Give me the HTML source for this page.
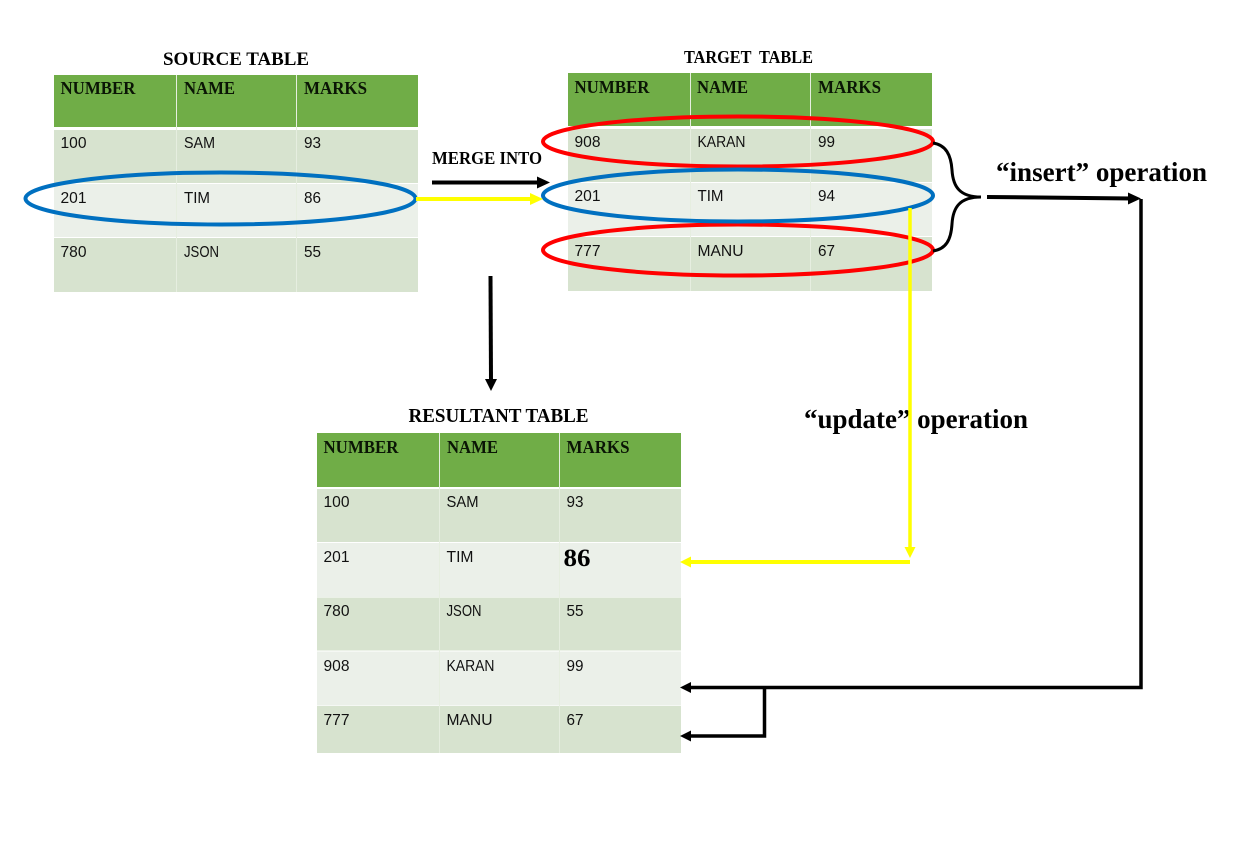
<!DOCTYPE html>
<html><head><meta charset="utf-8"><style>
html,body{margin:0;padding:0;background:#fff}
svg{display:block}
.h{font:bold 18px "Liberation Serif",serif;fill:#0a1505}
.c{font:15.500px "Liberation Sans",sans-serif;fill:#111}
.t{font:bold 19px "Liberation Serif",serif;fill:#000}
.op{font:bold 27px "Liberation Serif",serif;fill:#000}
</style></head><body>
<svg width="1241" height="849" viewBox="0 0 1241 849" xmlns="http://www.w3.org/2000/svg">
<rect width="1241" height="849" fill="#fff"/>

<!-- Source table -->
<rect x="54" y="75" width="364" height="52" fill="#70AD47"/>
<rect x="54" y="130" width="364" height="53" fill="#D7E3CF"/>
<rect x="54" y="184" width="364" height="53" fill="#EBF0E9"/>
<rect x="54" y="238" width="364" height="54" fill="#D7E3CF"/>
<path d="M176.500 75V292M296.500 75V292" stroke="#E6EEE0" stroke-width="1"/>
<text class="t" x="163" y="65" textLength="146" lengthAdjust="spacingAndGlyphs">SOURCE TABLE</text>
<text class="h" x="60.500" y="94" textLength="75" lengthAdjust="spacingAndGlyphs">NUMBER</text>
<text class="h" x="184" y="94" textLength="51" lengthAdjust="spacingAndGlyphs">NAME</text>
<text class="h" x="304" y="94" textLength="63" lengthAdjust="spacingAndGlyphs">MARKS</text>
<text class="c" x="60.500" y="148" textLength="26" lengthAdjust="spacingAndGlyphs">100</text><text class="c" x="184" y="148" textLength="31" lengthAdjust="spacingAndGlyphs">SAM</text><text class="c" x="304" y="148" textLength="17" lengthAdjust="spacingAndGlyphs">93</text>
<text class="c" x="60.500" y="203" textLength="26" lengthAdjust="spacingAndGlyphs">201</text><text class="c" x="184" y="203" textLength="26" lengthAdjust="spacingAndGlyphs">TIM</text><text class="c" x="304" y="203" textLength="17" lengthAdjust="spacingAndGlyphs">86</text>
<text class="c" x="60.500" y="257" textLength="26" lengthAdjust="spacingAndGlyphs">780</text><text class="c" x="184" y="257" textLength="35" lengthAdjust="spacingAndGlyphs">JSON</text><text class="c" x="304" y="257" textLength="17" lengthAdjust="spacingAndGlyphs">55</text>

<!-- Target table -->
<rect x="568" y="73" width="364" height="53" fill="#70AD47"/>
<rect x="568" y="129" width="364" height="53" fill="#D7E3CF"/>
<rect x="568" y="183" width="364" height="53" fill="#EBF0E9"/>
<rect x="568" y="237" width="364" height="54" fill="#D7E3CF"/>
<path d="M690.500 73V291M810.500 73V291" stroke="#E6EEE0" stroke-width="1"/>
<text class="t" x="684" y="63" textLength="129" lengthAdjust="spacingAndGlyphs" style="font-size:17.500px" xml:space="preserve">TARGET  TABLE</text>
<text class="h" x="574.500" y="93" textLength="75" lengthAdjust="spacingAndGlyphs">NUMBER</text>
<text class="h" x="697" y="93" textLength="51" lengthAdjust="spacingAndGlyphs">NAME</text>
<text class="h" x="818" y="93" textLength="63" lengthAdjust="spacingAndGlyphs">MARKS</text>
<text class="c" x="574.500" y="147" textLength="26" lengthAdjust="spacingAndGlyphs">908</text><text class="c" x="697.500" y="147" textLength="48" lengthAdjust="spacingAndGlyphs">KARAN</text><text class="c" x="818" y="147" textLength="17" lengthAdjust="spacingAndGlyphs">99</text>
<text class="c" x="574.500" y="201" textLength="26" lengthAdjust="spacingAndGlyphs">201</text><text class="c" x="697.500" y="201" textLength="26" lengthAdjust="spacingAndGlyphs">TIM</text><text class="c" x="818" y="201" textLength="17" lengthAdjust="spacingAndGlyphs">94</text>
<text class="c" x="574.500" y="256" textLength="26" lengthAdjust="spacingAndGlyphs">777</text><text class="c" x="697.500" y="256" textLength="46" lengthAdjust="spacingAndGlyphs">MANU</text><text class="c" x="818" y="256" textLength="17" lengthAdjust="spacingAndGlyphs">67</text>

<!-- Result table -->
<rect x="317" y="433" width="364" height="54" fill="#70AD47"/>
<rect x="317" y="489" width="364" height="53" fill="#D7E3CF"/>
<rect x="317" y="543" width="364" height="54" fill="#EBF0E9"/>
<rect x="317" y="597.500" width="364" height="53" fill="#D7E3CF"/>
<rect x="317" y="651.500" width="364" height="54" fill="#EBF0E9"/>
<rect x="317" y="706" width="364" height="47" fill="#D7E3CF"/>
<path d="M439.500 433V753M559.500 433V753" stroke="#E6EEE0" stroke-width="1"/>
<text class="t" x="408.500" y="422" textLength="180" lengthAdjust="spacingAndGlyphs" style="font-size:19.500px">RESULTANT TABLE</text>
<text class="h" x="323.500" y="453" textLength="75" lengthAdjust="spacingAndGlyphs">NUMBER</text>
<text class="h" x="447" y="453" textLength="51" lengthAdjust="spacingAndGlyphs">NAME</text>
<text class="h" x="566.500" y="453" textLength="63" lengthAdjust="spacingAndGlyphs">MARKS</text>
<text class="c" x="323.500" y="507" textLength="26" lengthAdjust="spacingAndGlyphs">100</text><text class="c" x="446.500" y="507" textLength="32" lengthAdjust="spacingAndGlyphs">SAM</text><text class="c" x="566.500" y="507" textLength="17" lengthAdjust="spacingAndGlyphs">93</text>
<text class="c" x="323.500" y="562" textLength="26" lengthAdjust="spacingAndGlyphs">201</text><text class="c" x="446.500" y="562" textLength="27" lengthAdjust="spacingAndGlyphs">TIM</text>
<text x="563.500" y="566" textLength="27" lengthAdjust="spacingAndGlyphs" style="font:bold 25.500px 'Liberation Serif',serif" fill="#000">86</text>
<text class="c" x="323.500" y="616" textLength="26" lengthAdjust="spacingAndGlyphs">780</text><text class="c" x="446.500" y="616" textLength="35" lengthAdjust="spacingAndGlyphs">JSON</text><text class="c" x="566.500" y="616" textLength="17" lengthAdjust="spacingAndGlyphs">55</text>
<text class="c" x="323.500" y="671" textLength="26" lengthAdjust="spacingAndGlyphs">908</text><text class="c" x="446.500" y="671" textLength="48" lengthAdjust="spacingAndGlyphs">KARAN</text><text class="c" x="566.500" y="671" textLength="17" lengthAdjust="spacingAndGlyphs">99</text>
<text class="c" x="323.500" y="725" textLength="26" lengthAdjust="spacingAndGlyphs">777</text><text class="c" x="446.500" y="725" textLength="46" lengthAdjust="spacingAndGlyphs">MANU</text><text class="c" x="566.500" y="725" textLength="17" lengthAdjust="spacingAndGlyphs">67</text>

<!-- Ellipses -->
<ellipse cx="220.500" cy="198.500" rx="195" ry="26" fill="none" stroke="#0070C0" stroke-width="4"/>
<ellipse cx="738" cy="141.500" rx="195" ry="25" fill="none" stroke="#F00" stroke-width="4"/>
<ellipse cx="738" cy="250" rx="195" ry="25.500" fill="none" stroke="#F00" stroke-width="4"/>
<ellipse cx="738" cy="195.500" rx="195" ry="26" fill="none" stroke="#0070C0" stroke-width="4"/>

<!-- Merge arrows -->
<text class="t" x="432" y="164" textLength="110" lengthAdjust="spacingAndGlyphs" style="font-size:18px">MERGE INTO</text>
<path d="M432 182.500H540" stroke="#000" stroke-width="4"/><path d="M537 176.500L550 182.500L537 188.500Z" fill="#000"/>
<path d="M416 199H532" stroke="#FF0" stroke-width="4"/><path d="M530 193L543 199L530 205Z" fill="#FF0"/>
<path d="M490.500 276L491 381" stroke="#000" stroke-width="4"/><path d="M485 379L491 391L497 379Z" fill="#000"/>

<!-- Brace -->
<path d="M933 143C946 145 951 155 952 170C953 187 960 197 981 197C960 197 953 207 952 224C951 240 946 249 933 251" fill="none" stroke="#000" stroke-width="3"/>

<!-- Insert -->
<text class="op" x="996" y="181" textLength="211" lengthAdjust="spacingAndGlyphs">“insert” operation</text>
<path d="M987 197L1132 198.500" stroke="#000" stroke-width="4"/><path d="M1128 192.500L1141 198.500L1128 204.500Z" fill="#000"/>
<path d="M1141 199V687.500H690" fill="none" stroke="#000" stroke-width="3.500"/>
<path d="M691 682L680 687.500L691 693Z" fill="#000"/>
<path d="M764.500 687.500V736H690" fill="none" stroke="#000" stroke-width="3.500"/>
<path d="M691 730.500L680 736L691 741.500Z" fill="#000"/>

<!-- Update -->
<text class="op" x="804" y="428" textLength="224" lengthAdjust="spacingAndGlyphs">“update” operation</text>
<path d="M910 208V549" stroke="#FF0" stroke-width="3.500"/><path d="M904.500 547L910 558L915.500 547Z" fill="#FF0"/>
<path d="M910 562H690" stroke="#FF0" stroke-width="4"/><path d="M691 556.500L680 562L691 567.500Z" fill="#FF0"/>
</svg>
</body></html>
